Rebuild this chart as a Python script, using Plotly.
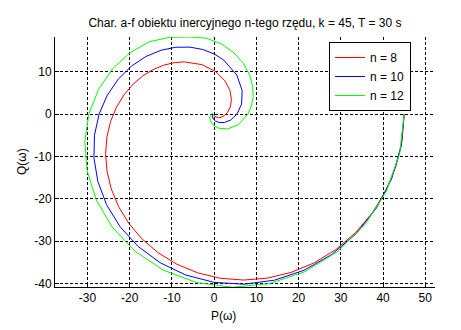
import plotly.graph_objects as go

P_n8 = [45, 44.51, 43.05, 40.66, 37.42, 33.44, 28.82, 23.70, 18.24, 12.59, 6.91, 1.35,
        -3.94, -8.84, -13.24, -17.05, -20.20, -22.64, -24.37, -25.38, -25.71, -25.40,
        -24.52, -23.14, -21.35, -19.25, -16.92, -14.46, -11.96, -9.49, -7.12, -2.91,
        0.35, 2.55, 3.74, 4.09, 3.82, 3.19, 2.42, 1.65, 1.00, 0.52, 0.20, 0.02, -0.07, -0.09]
Q_n8 = [0, -6.26, -12.34, -18.10, -23.39, -28.06, -32.00, -35.14, -37.40, -38.76, -39.21, -38.77,
        -37.50, -35.47, -32.78, -29.53, -25.85, -21.87, -17.70, -13.50, -9.36, -5.40,
        -1.71, 1.62, 4.54, 7.01, 9.00, 10.51, 11.55, 12.14, 12.33, 11.68,
        10.04, 7.85, 5.55, 3.43, 1.70, 0.45, -0.34, -0.74, -0.84, -0.77, -0.61, -0.43, -0.27, -0.15]

P_n10 = [45, 44.25, 42.03, 38.44, 33.64, 27.84, 21.30, 14.28, 7.09, 0.0, -6.70, -12.79,
         -18.04, -22.31, -25.50, -27.55, -28.48, -28.35, -27.25, -25.31, -22.70, -19.60,
         -16.19, -12.63, -9.11, -5.75, -2.69, 0.0, 2.25, 5.34, 6.63, 6.49, 5.40, 3.90,
         2.40, 1.16, 0.29, -0.20, -0.40, -0.42, -0.33, -0.22]
Q_n10 = [0, -7.80, -15.30, -22.19, -28.23, -33.18, -36.89, -39.24, -40.19, -39.76, -38.03, -35.13,
         -31.25, -26.59, -21.40, -15.91, -10.37, -5.00, 0.0, 4.46, 8.26, 11.32,
         13.58, 15.06, 15.78, 15.81, 15.25, 14.19, 12.76, 9.25, 5.57, 2.36, 0.0, -1.42,
         -2.01, -2.00, -1.64, -1.16, -0.70, -0.35, -0.12, 0.0]

P_n12 = [45, 43.94, 40.81, 35.81, 29.24, 21.49, 13.02, 4.30, -4.18, -11.99, -18.72, -24.10,
         -27.93, -30.10, -30.65, -29.69, -27.40, -24.05, -19.94, -15.37, -10.67, -6.10,
         -1.90, 1.74, 4.70, 6.91, 8.37, 9.11, 9.23, 8.82, 8.01, 5.69, 3.17, 1.09,
         -0.27, -0.92, -1.03, -0.85, -0.56, -0.29]
Q_n12 = [0, -9.34, -18.17, -26.02, -32.48, -37.23, -40.07, -40.91, -39.80, -36.89, -32.43, -26.77,
         -20.29, -13.40, -6.52, 0.0, 5.82, 10.71, 14.48, 17.07, 18.10, 18.20,
         17.95, 16.56, 14.46, 11.97, 9.29, 6.62, 4.11, 1.87, 0.0, -2.53, -3.52, -3.36,
         -2.57, -1.59, -0.75, -0.18, 0.12, 0.21]

series_names = ["n = 8", "n = 10", "n = 12"]
series_colors = ["#ff0000", "#0000ff", "#00ff00"]

x_ticks = [-30, -20, -10, 0, 10, 20, 30, 40, 50]
x_tick_labels = ["-30", "-20", "-10", "0", "10", "20", "30", "40", "50"]
y_ticks = [-40, -30, -20, -10, 0, 10]
y_tick_labels = ["-40", "-30", "-20", "-10", "0", "10"]

title_text = "Char. a-f obiektu inercyjnego n-tego rzędu, k = 45, T = 30 s"
x_label = "P(ω)"
y_label = "Q(ω)"

W, H = 461, 330
L, R, T, B = 55, 26, 37, 43
plot_w = W - L - R
plot_h = H - T - B

fig = go.Figure()
for name, P, Q, col in zip(series_names, [P_n8, P_n10, P_n12], [Q_n8, Q_n10, Q_n12], series_colors):
    fig.add_trace(go.Scatter(x=P, y=Q, mode="lines", name=name,
                             line=dict(color=col, width=1)))

fig.update_layout(
    width=W, height=H, autosize=False,
    margin=dict(l=L, r=R, t=T, b=B, pad=0),
    paper_bgcolor="white", plot_bgcolor="white",
    font=dict(family="Arial, 'Liberation Sans', sans-serif", size=12, color="black"),
    title=dict(text=title_text, x=0.5, xref="paper", xanchor="center",
               y=1 - 23 / H, yref="container", yanchor="middle",
               font=dict(size=12, color="black")),
    legend=dict(x=(329 - L) / plot_w, y=1 - (42 - T) / plot_h, xanchor="left", yanchor="top",
                bgcolor="white", bordercolor="black", borderwidth=1,
                font=dict(size=12), itemwidth=30, tracegroupgap=0),
    showlegend=True,
    annotations=[
        dict(text=x_label, xref="paper", yref="paper", x=(223 - L) / plot_w,
             y=-(316 - (H - B)) / plot_h,
             xanchor="center", yanchor="middle", showarrow=False, font=dict(size=12)),
        dict(text=y_label, xref="paper", yref="paper", x=(22 - L) / plot_w, y=0.5,
             xanchor="center", yanchor="middle", showarrow=False, textangle=-90,
             font=dict(size=12)),
    ],
)

axis_common = dict(showgrid=True, gridcolor="black", gridwidth=1, griddash="3px,2px",
                   showline=True, linecolor="black", linewidth=1, ticks="inside",
                   ticklen=4, tickcolor="black", zeroline=False, mirror=False,
                   tickfont=dict(size=12, color="black"))
fig.update_xaxes(range=[-37.7, 52.3], tickvals=x_ticks, ticktext=x_tick_labels, **axis_common)
fig.update_yaxes(range=[-40.85, 18.2], tickvals=y_ticks, ticktext=y_tick_labels, **axis_common)

fig.write_html("out.html")
